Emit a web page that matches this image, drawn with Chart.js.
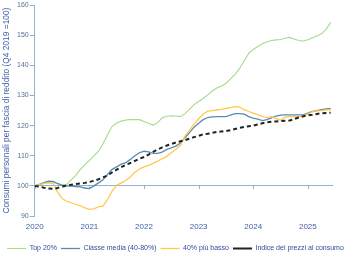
<!DOCTYPE html>
<html>
<head>
<meta charset="utf-8">
<script src="https://cdn.jsdelivr.net/npm/chart.js@4/dist/chart.umd.min.js"></script>
<style>
html,body{margin:0;padding:0;background:#fff;}
#wrap{position:relative;width:350px;height:256px;}
</style>
</head>
<body>
<div id="wrap"><canvas id="c" width="350" height="256"></canvas></div>
<script>
const months = [
 '2020-01','2020-02','2020-03','2020-04','2020-05','2020-06','2020-07','2020-08','2020-09','2020-10','2020-11','2020-12',
 '2021-01','2021-02','2021-03','2021-04','2021-05','2021-06','2021-07','2021-08','2021-09','2021-10','2021-11','2021-12',
 '2022-01','2022-02','2022-03','2022-04','2022-05','2022-06','2022-07','2022-08','2022-09','2022-10','2022-11','2022-12',
 '2023-01','2023-02','2023-03','2023-04','2023-05','2023-06','2023-07','2023-08','2023-09','2023-10','2023-11','2023-12',
 '2024-01','2024-02','2024-03','2024-04','2024-05','2024-06','2024-07','2024-08','2024-09','2024-10','2024-11','2024-12',
 '2025-01','2025-02','2025-03','2025-04','2025-05','2025-06'
];
const top20 = [100,100.4,100.8,101.3,101.2,100.7,100.4,100.5,102,103.5,105.5,107,
 108.5,110,111.5,114,117,119.8,120.9,121.5,121.9,122,122,122,
 121.4,120.8,120.2,121,122.6,123.1,123.3,123.2,123,124,125.5,127,
 128,129,130.2,131.5,132.5,133.2,134,135.5,137,139,141.5,144,
 145.3,146.3,147.2,147.8,148.3,148.5,148.6,149,149.3,148.8,148.3,148.1,
 148.5,149.2,149.8,150.5,152,154.3];
const classeMedia = [100,100.5,101.1,101.6,101.5,100.8,100.2,100,99.9,99.8,99.7,99.3,
 99.1,100,101,102,103.8,105.5,106.3,107.2,107.7,108.8,110,111,
 111.5,111.3,110.8,110.8,111.2,112.1,112.6,113.2,114.2,116,117.7,119.5,
 120.8,122,122.7,122.9,123,123,123,123.5,124,124,123.8,123,
 122.5,122.2,121.7,122,122.6,123.2,123.5,123.6,123.6,123.6,123.6,123.6,
 124.2,124.7,125,125.3,125.6,125.7];
const piuBasso = [100,100.4,100.8,101,100.8,98,95.8,94.9,94.4,93.9,93.4,92.7,
 92.2,92.4,93,93.3,95.5,98.3,100.2,101,101.8,103,104.5,105.6,
 106.3,106.8,107.5,108.2,109,109.8,111,112.2,113.5,116.5,118.5,120.5,
 122.3,123.8,124.8,125,125.2,125.4,125.7,126,126.3,126.2,125.3,124.7,
 124.2,123.7,123,122.7,123,122.3,121.9,122.8,123,123,123,123.1,
 123.8,124.7,124.9,125,125.2,125.3];
const prezzi = [100,99.8,99.4,99.1,99,99.3,99.8,100.1,100.4,100.6,100.8,101,
 101.3,101.7,102.2,102.8,103.5,104.5,105.4,106.2,107,107.6,108.3,109,
 109.6,110.4,111.3,112.1,112.8,113.4,113.9,114.4,114.8,115.2,115.7,116.2,
 116.6,117.1,117.3,117.6,117.9,118.1,118.2,118.5,118.9,119.3,119.6,119.8,
 120,120.4,120.8,121.1,121.3,121.4,121.5,121.6,121.7,122.2,122.7,123.1,
 123.4,123.6,123.9,124.1,124.2,124.3];
const yearTicks = [2020,2021,2022,2023,2024,2025];
const yTicks = [90,100,110,120,130,140,150,160];
const seriesNames = ['Top 20%','Classe media (40-80%)','40% più basso','Indice dei prezzi al consumo'];
const yTitle = 'Consumi personali per fascia di reddito (Q4 2019 =100)';

const toX = s => { const [y, m] = s.split('-').map(Number); return y + (m - 1) / 12; };
const pts = arr => arr.map((v, i) => ({x: toX(months[i]), y: v}));

const AXIS = '#8fb4d0';
const FONT = "'Liberation Sans', Arial, sans-serif";

const tickMarks = {
  id: 'tickMarks',
  beforeDatasetsDraw(chart) {
    const {ctx, scales} = chart;
    const y0 = scales.y.getPixelForValue(100);
    ctx.save();
    ctx.strokeStyle = AXIS;
    ctx.lineWidth = 1;
    yearTicks.forEach(v => {
      const x = Math.round(scales.x.getPixelForValue(v)) + 0.5;
      ctx.beginPath();
      ctx.moveTo(x, y0);
      ctx.lineTo(x, y0 + 3);
      ctx.stroke();
    });
    ctx.restore();
  }
};

new Chart(document.getElementById('c'), {
  type: 'line',
  data: {
    datasets: [
      {label: seriesNames[0], data: pts(top20), borderColor: '#a6da8c', backgroundColor: '#a6da8c', borderWidth: 1.1, pointRadius: 0, order: 3, tension: 0},
      {label: seriesNames[1], data: pts(classeMedia), borderColor: '#5a8bb0', backgroundColor: '#5a8bb0', borderWidth: 1.3, pointRadius: 0, order: 2, tension: 0},
      {label: seriesNames[2], data: pts(piuBasso), borderColor: '#fec94e', backgroundColor: '#fec94e', borderWidth: 1.3, pointRadius: 0, order: 1, tension: 0},
      {label: seriesNames[3], data: pts(prezzi), borderColor: '#222222', backgroundColor: '#222222', borderWidth: 2, borderDash: [4, 3], pointRadius: 0, order: 0, tension: 0}
    ]
  },
  options: {
    responsive: false,
    animation: false,
    devicePixelRatio: 1,
    layout: {padding: {top: 4, right: 0, bottom: -6, left: 1}},
    plugins: {
      tooltip: {enabled: false},
      legend: {
        position: 'bottom',
        labels: {
          usePointStyle: true,
          pointStyle: 'line',
          pointStyleWidth: 19,
          boxHeight: 7,
          padding: 4,
          color: '#2f4c98',
          font: {family: FONT, size: 7},
          sort: (a, b) => a.datasetIndex - b.datasetIndex
        }
      }
    },
    scales: {
      x: {
        type: 'linear',
        min: 2020,
        max: 2025.46,
        afterFit: s => { s.height = 25; },
        afterBuildTicks: s => { s.ticks = yearTicks.map(v => ({value: v})); },
        ticks: {
          color: '#3f5fa8',
          padding: 6,
          font: {family: FONT, size: 8},
          callback: v => String(v),
          maxRotation: 0,
          autoSkip: false
        },
        grid: {display: false, drawTicks: false},
        border: {display: false}
      },
      y: {
        min: 90,
        max: 160,
        afterBuildTicks: s => { s.ticks = yTicks.map(v => ({value: v})); },
        ticks: {
          color: '#5a6c96',
          padding: 1,
          font: {family: FONT, size: 7},
          callback: v => String(v)
        },
        grid: {
          color: c => (c.tick && c.tick.value === 100) ? AXIS : 'rgba(0,0,0,0)',
          tickColor: AXIS,
          tickLength: 5,
          lineWidth: 1
        },
        border: {display: true, color: AXIS},
        title: {
          display: true,
          text: yTitle,
          color: '#3f5fa8',
          font: {family: FONT, size: 8.4},
          padding: {top: 1, bottom: 4}
        }
      },
      yR: {
        position: 'right',
        display: true,
        afterFit: s => { s.width = 17; },
        ticks: {display: false},
        grid: {display: false, drawTicks: false},
        border: {display: false}
      }
    }
  },
  plugins: [tickMarks]
});
</script>
</body>
</html>
